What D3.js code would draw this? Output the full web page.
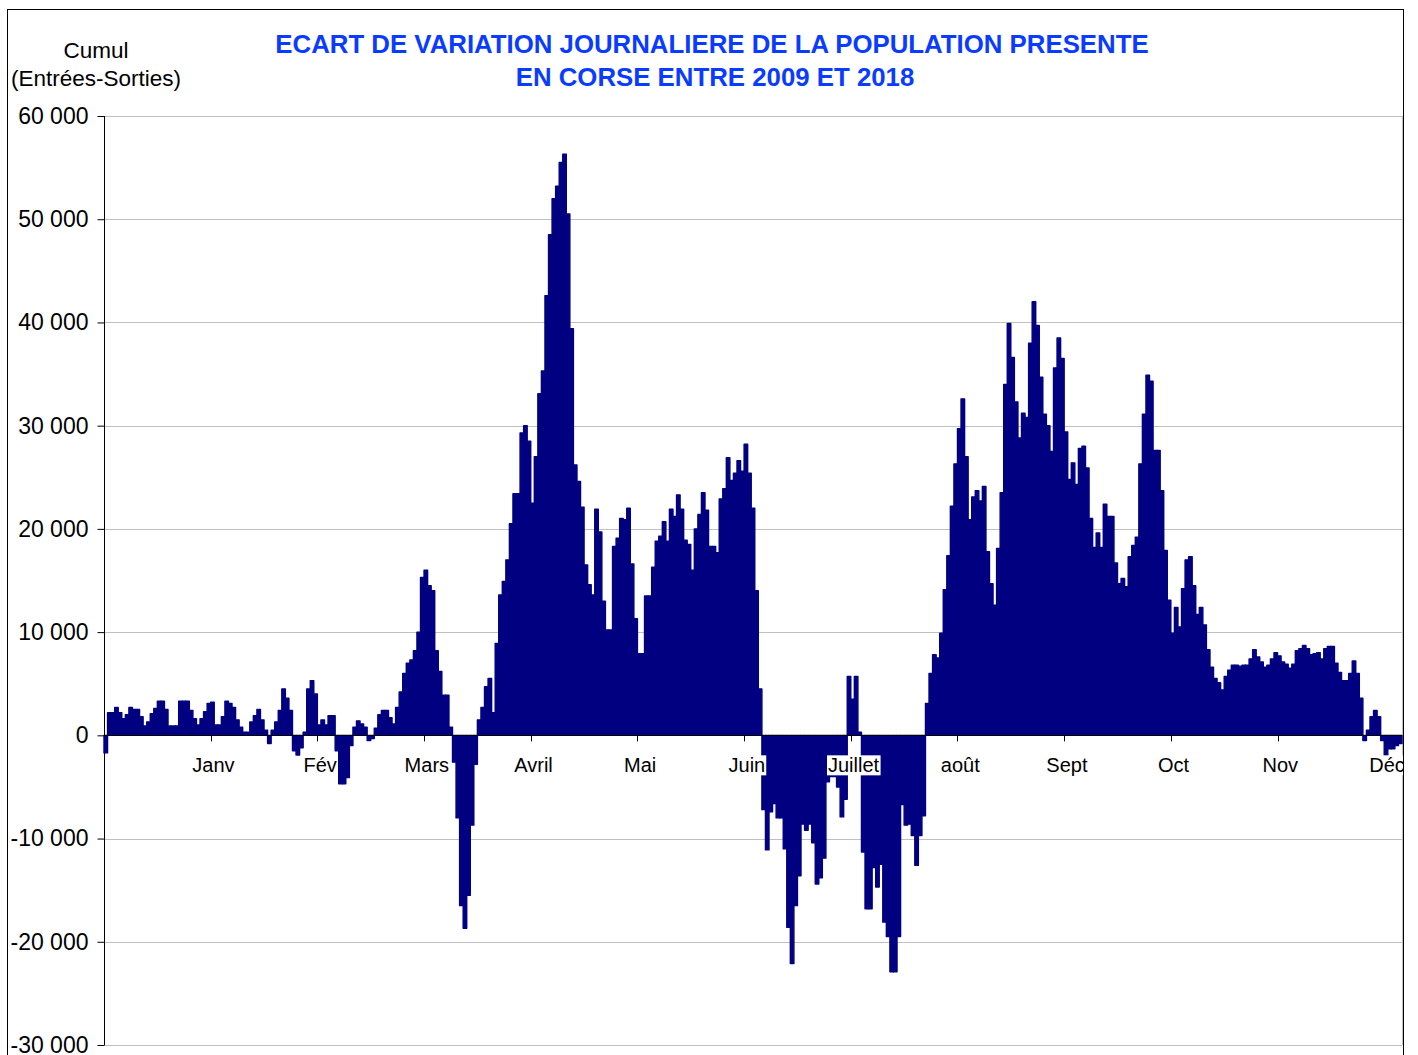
<!DOCTYPE html>
<html><head><meta charset="utf-8">
<script src="https://cdn.jsdelivr.net/npm/d3@7"></script>
<style>
body{margin:0;background:#fff}
svg{display:block}
text{font-family:"Liberation Sans",Arial,Helvetica,sans-serif}
</style></head>
<body><svg id="chart" width="1418" height="1055"></svg>
<script>
// Daily cumulative gap (entries - exits), one value per day of the year
const values = [
-1700,2200,2200,2700,2200,1600,2000,2700,2500,2500,
1800,900,1300,2100,2600,3300,3300,2500,900,900,
900,3300,3300,3300,2400,1600,1000,1600,2300,3100,
3200,1000,1000,1800,3300,3100,2700,1500,800,300,
300,1300,1900,2500,1500,500,-800,500,1300,2400,
4500,3600,2400,-1500,-1900,-1200,300,4500,5300,4000,
1000,1500,1000,1900,1900,-1500,-4700,-4700,-4100,-1000,
800,1400,1100,800,-500,-300,700,2000,2400,2400,
1700,1100,2700,4200,6000,7000,7300,8200,10000,15300,
16000,14500,14000,8200,6200,3900,3900,800,-2600,-8000,
-16500,-18700,-15500,-8700,-2800,1500,2700,4700,5500,2200,
8900,13600,14900,17000,20500,23400,23400,29300,30000,28500,
22500,27000,33100,35300,42600,48500,52000,53200,55500,56300,
50500,39400,26200,24600,22100,16500,14600,13600,21900,19700,
13000,10200,10200,18300,19100,21000,20900,22000,16600,11300,
7900,7900,13500,13500,16300,18800,19300,20700,18800,21900,
21200,23300,21900,18900,18500,16000,20000,21400,23500,21800,
18300,18300,17700,22900,23900,26900,24700,25400,26600,25600,
28200,25400,22000,14000,4500,-7200,-11100,-7400,-6600,-8000,
-8000,-11000,-18600,-22100,-16500,-13600,-8600,-9200,-8600,-10400,
-14400,-13800,-11900,-4500,-4000,-4000,-5000,-7900,-6200,5700,
3500,5700,300,-11300,-16800,-16800,-12800,-14700,-12500,-18100,
-19500,-22900,-22900,-19500,-6700,-8700,-8600,-9700,-12600,-9700,
-7800,3100,6000,7800,7500,9900,14100,17400,22200,26300,
29700,32600,27000,20900,23100,23700,22700,24100,17800,14700,
12600,18100,23500,34000,39900,36600,32300,28800,31200,30800,
38000,42000,39700,34700,31100,30000,27500,35600,38500,36500,
29400,24800,26400,24300,27800,28000,25900,21000,18200,19600,
18200,22400,21200,21200,16700,14700,15200,14400,17300,18400,
19200,26300,31100,34900,34300,27600,27600,23700,17900,13100,
9900,12400,10500,14200,17000,17300,14500,11700,12400,10700,
8300,6600,5500,5100,4400,5700,6300,6800,6800,6700,
6800,6800,7400,8300,7600,7100,6600,6800,7400,8000,
7700,7100,6900,6500,6900,8200,8400,8700,8400,7800,
7900,8000,7400,8400,8600,8600,7000,6100,5300,5300,
6000,7200,6000,3600,-500,500,1800,2400,1800,-500,
-2400,-1300,-1300,-1000,-800
];
const monthLabels = ["Janv","Fév","Mars","Avril","Mai","Juin","Juillet","août","Sept","Oct","Nov","Déc"];
const monthTickEvery = 30;
const yTickValues = [-30000,-20000,-10000,0,10000,20000,30000,40000,50000,60000];
const titleLines = ["ECART DE VARIATION JOURNALIERE DE LA POPULATION PRESENTE","EN CORSE ENTRE 2009 ET 2018"];
const yTitleLines = ["Cumul","(Entrées-Sorties)"];

const svg = d3.select("#chart");
const L = 104, R = 1402, T = 116, B = 1045;
const barColor = "#000080";

const x = d3.scaleBand().domain(d3.range(values.length)).range([L, R]).padding(0);
const y = d3.scaleLinear().domain([-30000, 60000]).range([B, T]);
const bw = x.bandwidth();
const y0 = y(0);

svg.append("defs").append("clipPath").attr("id","frameClip")
  .append("rect").attr("x",0).attr("y",0).attr("width",1403).attr("height",1055);

// outer frame
svg.append("rect").attr("x",7.5).attr("y",9.5).attr("width",1396).attr("height",1070)
  .attr("fill","none").attr("stroke","#000").attr("stroke-width",1);

// gridlines
svg.append("g").selectAll("line").data(yTickValues.filter(v => v !== 0)).join("line")
  .attr("x1", L).attr("x2", R)
  .attr("y1", d => Math.round(y(d)) + 0.5).attr("y2", d => Math.round(y(d)) + 0.5)
  .attr("stroke", "#c0c0c0").attr("stroke-width", 1);
svg.append("line").attr("x1", R + 0.5).attr("x2", R + 0.5).attr("y1", T).attr("y2", B)
  .attr("stroke", "#c0c0c0");

// y axis
const fr = d3.formatLocale({decimal: ",", thousands: " ", grouping: [3], currency: ["", ""], minus: "-"});
const fmt = fr.format(",");
const yAxis = svg.append("g").attr("transform", `translate(${L + 0.5},0)`)
  .call(d3.axisLeft(y).tickValues(yTickValues).tickSize(7).tickPadding(9).tickFormat(fmt));
yAxis.select(".domain").remove();
yAxis.selectAll(".tick line").attr("stroke", "#000");
yAxis.selectAll(".tick text").attr("font-size", 23).attr("fill", "#000")
  .attr("font-family", "Liberation Sans, Arial, sans-serif");
svg.append("line").attr("x1", L + 0.5).attr("x2", L + 0.5).attr("y1", T).attr("y2", B)
  .attr("stroke", "#000");

// category ticks on zero line
const tickIdx = d3.range(0, values.length, monthTickEvery);
svg.append("g").selectAll("line").data(tickIdx).join("line")
  .attr("x1", d => Math.round(x(d)) + 0.5).attr("x2", d => Math.round(x(d)) + 0.5)
  .attr("y1", y0).attr("y2", y0 + 6).attr("stroke", "#000");

// bars
svg.append("g").selectAll("rect").data(values).join("rect")
  .attr("x", (d, i) => x(i))
  .attr("width", bw)
  .attr("y", d => y(Math.max(0, d)))
  .attr("height", d => Math.abs(y(d) - y0))
  .attr("fill", barColor).attr("stroke", barColor).attr("stroke-width", 1.4)
  .attr("stroke-linejoin", "round");

// zero line
svg.append("line").attr("x1", L).attr("x2", R).attr("y1", Math.round(y0) + 0.5).attr("y2", Math.round(y0) + 0.5)
  .attr("stroke", "#000");

// month labels, drawn over the bars on a white box
const lab = svg.append("g").attr("clip-path", "url(#frameClip)");
const labs = lab.selectAll("g").data(monthLabels).join("g");
labs.append("rect").attr("fill", "#fff");
labs.append("text")
  .attr("x", (d, i) => x((i + 1) * monthTickEvery) + bw / 2 + 1)
  .attr("y", y0 + 37)
  .attr("text-anchor", "middle").attr("font-size", 20).attr("fill", "#000")
  .text(d => d);
labs.each(function() {
  const g = d3.select(this);
  const bb = g.select("text").node().getBBox();
  g.select("rect").attr("x", bb.x - 1).attr("y", bb.y + 1).attr("width", bb.width + 2).attr("height", bb.height - 2);
});

// titles
svg.append("g").selectAll("text").data(titleLines).join("text")
  .attr("x", (d, i) => i === 0 ? 712 : 715)
  .attr("y", (d, i) => 53 + i * 33)
  .attr("text-anchor", "middle").attr("font-weight", "bold").attr("font-size", 25.8)
  .attr("fill", "#0a3cff").text(d => d);

svg.append("g").selectAll("text").data(yTitleLines).join("text")
  .attr("x", 96).attr("y", (d, i) => 58 + i * 28)
  .attr("text-anchor", "middle").attr("font-size", 22.5).attr("fill", "#000")
  .text(d => d);
</script></body></html>
